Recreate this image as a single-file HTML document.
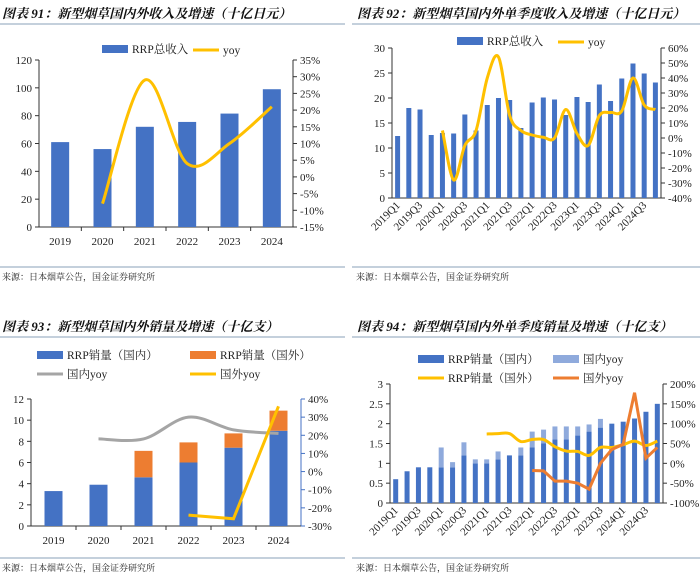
<!DOCTYPE html>
<html><head><meta charset="utf-8">
<style>
body{margin:0;background:#fff;width:700px;height:580px;overflow:hidden;}
svg text{font-family:"Liberation Serif","Noto Serif CJK SC",serif;}
.t{font-family:"Liberation Serif","Noto Serif CJK SC",serif;font-weight:bold;font-style:italic;font-size:13px;fill:#111;}
.s{font-family:"Liberation Serif","Noto Serif CJK SC",serif;font-size:9px;fill:#222;}
.k{font-size:11px;fill:#222;}
.lg{font-size:11.5px;fill:#222;}
</style></head>
<body>
<svg id="c" width="700" height="580" xmlns="http://www.w3.org/2000/svg">
<text class="t" x="2" y="18">图表 91：新型烟草国内外收入及增速（十亿日元）</text>
<line x1="0" y1="24" x2="345" y2="24" stroke="#8aa0b8" stroke-width="1"/>
<line x1="0" y1="267" x2="345" y2="267" stroke="#8aa0b8" stroke-width="1"/>
<text class="s" x="2" y="280">来源：日本烟草公告，国金证券研究所</text>
<text class="t" x="357" y="18">图表 92：新型烟草国内外单季度收入及增速（十亿日元）</text>
<line x1="352" y1="24" x2="700" y2="24" stroke="#8aa0b8" stroke-width="1"/>
<line x1="352" y1="267" x2="700" y2="267" stroke="#8aa0b8" stroke-width="1"/>
<text class="s" x="356" y="280">来源：日本烟草公告，国金证券研究所</text>
<text class="t" x="2" y="331">图表 93：新型烟草国内外销量及增速（十亿支）</text>
<line x1="0" y1="337" x2="345" y2="337" stroke="#8aa0b8" stroke-width="1"/>
<line x1="0" y1="558" x2="345" y2="558" stroke="#8aa0b8" stroke-width="1"/>
<text class="s" x="2" y="571">来源：日本烟草公告，国金证券研究所</text>
<text class="t" x="357" y="331">图表 94：新型烟草国内外单季度销量及增速（十亿支）</text>
<line x1="352" y1="337" x2="700" y2="337" stroke="#8aa0b8" stroke-width="1"/>
<line x1="352" y1="558" x2="700" y2="558" stroke="#8aa0b8" stroke-width="1"/>
<text class="s" x="356" y="571">来源：日本烟草公告，国金证券研究所</text>
</svg>
<script>
// ---- Chart 91 data
const years = ["2019","2020","2021","2022","2023","2024"];
const rev91 = [61,56,72,75.5,81.5,99];
const yoy91 = [null,-8,29,4,10,21];
const leftTicks91 = [0,20,40,60,80,100,120];
const rightTicks91 = [-15,-10,-5,0,5,10,15,20,25,30,35];
// ---- Chart 92 data
const quarters = ["2019Q1","2019Q2","2019Q3","2019Q4","2020Q1","2020Q2","2020Q3","2020Q4","2021Q1","2021Q2","2021Q3","2021Q4","2022Q1","2022Q2","2022Q3","2022Q4","2023Q1","2023Q2","2023Q3","2023Q4","2024Q1","2024Q2","2024Q3","2024Q4"];
const rev92 = [12.4,18,17.7,12.6,13,12.9,16.7,13.5,18.6,20,19.6,14,19.1,20.1,19.7,16.6,20.2,19.2,22.7,19.4,23.9,26.9,24.9,23.1];
const yoy92 = [null,null,null,null,5,-28,-5,5,40,54,15,5,2,0.5,0,19,3,-5,15,17,18,40,22,19];
const leftTicks92 = [0,5,10,15,20,25,30];
const rightTicks92 = [-40,-30,-20,-10,0,10,20,30,40,50,60];
// ---- Chart 93 data
const dom93 = [3.3,3.9,4.6,6.0,7.4,9.0];
const for93 = [0,0,2.5,1.9,1.35,1.9];
const domYoy93 = [null,18,18,30,23,21];
const forYoy93 = [null,null,null,-24,-26,36];
const leftTicks93 = [0,2,4,6,8,10,12];
const rightTicks93 = [-30,-20,-10,0,10,20,30,40];
// ---- Chart 94 data
const dom94 = [0.6,0.8,0.9,0.9,0.9,0.9,1.2,1.0,1.0,1.1,1.2,1.2,1.4,1.5,1.6,1.6,1.7,1.8,1.9,2.0,2.05,2.13,2.3,2.5];
const tot94 = [0.6,0.8,0.9,0.9,1.4,1.03,1.53,1.1,1.1,1.3,1.2,1.4,1.8,1.85,1.93,1.93,1.93,1.98,2.12,2.0,2.05,2.13,2.3,2.5];
const forVol94 = [null,null,null,null,null,null,null,null,74,75,75,55,60,60,42,31,30,20,40,40,47,56,45,56];
const forYoy94 = [null,null,null,null,null,null,null,null,null,null,null,null,-18,-19,-45,-45,-50,-65,0,35,48,178,13,40];
const leftTicks94 = [0,0.5,1,1.5,2,2.5,3];
const leftLabels94 = ["0","0.5","1","1.5","2","2.5","3"];
const rightTicks94 = [-100,-50,0,50,100,150,200];

const svg=document.getElementById('c');
const NS='http://www.w3.org/2000/svg';
function mk(tag,attrs,parent){const e=document.createElementNS(NS,tag);for(const k in attrs)e.setAttribute(k,attrs[k]);(parent||svg).appendChild(e);return e;}
function lin(d0,d1,r0,r1){return v=>r0+(v-d0)*(r1-r0)/(d1-d0);}
function smoothPath(pts){
  let d='M'+pts[0][0]+','+pts[0][1];
  for(let i=0;i<pts.length-1;i++){
    const p0=pts[i-1]||pts[i],p1=pts[i],p2=pts[i+1],p3=pts[i+2]||p2;
    const c1=[p1[0]+(p2[0]-p0[0])/6,p1[1]+(p2[1]-p0[1])/6];
    const c2=[p2[0]-(p3[0]-p1[0])/6,p2[1]-(p3[1]-p1[1])/6];
    d+=' C'+c1+' '+c2+' '+p2;
  }
  return d;
}
function linePath(pts){return 'M'+pts.map(p=>p.join(',')).join(' L');}
function ptsOf(vals,xf,yf){const p=[];vals.forEach((v,i)=>{if(v!==null)p.push([xf(i),yf(v)]);});return p;}
function axes(o){
  // left axis
  mk('line',{x1:o.xl,y1:o.yTop,x2:o.xl,y2:o.yBot,stroke:'#333'});
  o.lt.forEach((v,i)=>{const y=o.ly(v);
    mk('line',{x1:o.xl-4,y1:y,x2:o.xl,y2:y,stroke:'#333'});
    const t=mk('text',{x:o.xl-7,y:y+4,'text-anchor':'end',class:'k'});t.textContent=o.ll?o.ll[i]:v;
    
    });
  const rc=o.rColor||'#333';
  mk('line',{x1:o.xr,y1:o.yTop,x2:o.xr,y2:o.yBot,stroke:rc});
  o.rt.forEach(v=>{const y=o.ry(v);
    mk('line',{x1:o.xr,y1:y,x2:o.xr+4,y2:y,stroke:rc});
    const t=mk('text',{x:o.xr+7,y:y+4,class:'k'});t.textContent=v+'%';
    
    });
  mk('line',{x1:o.xl,y1:o.yBot,x2:o.xr,y2:o.yBot,stroke:'#333'});
}
function bar(x,w,y0,y1,fill,name){const r=mk('rect',{x:x-w/2,y:Math.min(y0,y1),width:w,height:Math.abs(y1-y0),fill:fill});
  
  return r;}
function legRect(x,y,fill,label,name){mk('rect',{x:x,y:y-5,width:26,height:8,fill:fill});const t=mk('text',{x:x+30,y:y+3,class:'lg'});t.textContent=label;
  
  }
function legLine(x,y,col,label,name){mk('line',{x1:x,y1:y,x2:x+26,y2:y,stroke:col,'stroke-width':3});const t=mk('text',{x:x+30,y:y+4,class:'lg'});t.textContent=label;
  
  }
const BLUE='#4472c4',GOLD='#ffc000',ORANGE='#ed7d31',GRAY='#a5a5a5',LBLUE='#8faadc';

// ---- Chart 91
(function(){
  const xl=39,xr=293,yTop=60,yBot=227;
  const ly=lin(0,120,yBot,yTop), ry=lin(-15,35,yBot,yTop);
  const step=(xr-xl)/years.length, xf=i=>xl+step*(i+0.5);
  axes({xl,xr,yTop,yBot,ly,ry,lt:leftTicks91,rt:rightTicks91});
  for(let i=1;i<years.length;i++)mk('line',{x1:xl+step*i,y1:yBot,x2:xl+step*i,y2:yBot+4,stroke:'#333'});
  rev91.forEach((v,i)=>bar(xf(i),18,yBot,ly(v),BLUE,'bar-91-'+years[i]));
  years.forEach((y,i)=>{const t=mk('text',{x:xf(i),y:245,'text-anchor':'middle',class:'k'});t.textContent=y;});
  const p=mk('path',{d:smoothPath(ptsOf(yoy91,xf,ry)),fill:'none',stroke:GOLD,'stroke-width':3});
  
  
  legRect(102,50,BLUE,'RRP总收入','legend-91-revenue');
  legLine(193,50,GOLD,'yoy','legend-91-yoy');
})();

// ---- Chart 92
(function(){
  const xl=392,xr=661,yTop=48,yBot=198;
  const ly=lin(0,30,yBot,yTop), ry=lin(-40,60,yBot,yTop);
  const step=(xr-xl)/quarters.length, xf=i=>xl+step*(i+0.5);
  axes({xl,xr,yTop,yBot,ly,ry,lt:leftTicks92,rt:rightTicks92});
  rev92.forEach((v,i)=>bar(xf(i),5,yBot,ly(v),BLUE,'bar-92-'+quarters[i]));
  quarters.forEach((q,i)=>{if(i%2)return;const t=mk('text',{x:xf(i)+3,y:yBot+8,'text-anchor':'end',class:'k',transform:'rotate(-45 '+(xf(i)+3)+' '+(yBot+8)+')'});t.textContent=q;});
  const p=mk('path',{d:smoothPath(ptsOf(yoy92,xf,ry)),fill:'none',stroke:GOLD,'stroke-width':3});
  
  
  legRect(457,42,BLUE,'RRP总收入','legend-92-revenue');
  legLine(558,42,GOLD,'yoy','legend-92-yoy');
})();

// ---- Chart 93
(function(){
  const xl=31,xr=301,yTop=399,yBot=526;
  const ly=lin(0,12,yBot,yTop), ry=lin(-30,40,yBot,yTop);
  const step=(xr-xl)/years.length, xf=i=>xl+step*(i+0.5);
  axes({xl,xr,yTop,yBot,ly,ry,lt:leftTicks93,rt:rightTicks93,rColor:BLUE});
  for(let i=1;i<years.length;i++)mk('line',{x1:xl+step*i,y1:yBot,x2:xl+step*i,y2:yBot+4,stroke:'#333'});
  dom93.forEach((v,i)=>{bar(xf(i),18,yBot,ly(v),BLUE,'bar-93-domestic-'+years[i]);
    if(for93[i]>0)bar(xf(i),18,ly(v),ly(v+for93[i]),ORANGE,'bar-93-foreign-'+years[i]);});
  years.forEach((y,i)=>{const t=mk('text',{x:xf(i),y:544,'text-anchor':'middle',class:'k'});t.textContent=y;});
  const g=mk('path',{d:smoothPath(ptsOf(domYoy93,xf,ry)),fill:'none',stroke:GRAY,'stroke-width':3});
  
  
  const y=mk('path',{d:linePath(ptsOf(forYoy93,xf,ry)),fill:'none',stroke:GOLD,'stroke-width':3});
  
  
  legRect(37,356,BLUE,'RRP销量（国内）','legend-93-domestic');
  legRect(190,356,ORANGE,'RRP销量（国外）','legend-93-foreign');
  legLine(37,374,GRAY,'国内yoy','legend-93-domestic-yoy');
  legLine(190,374,GOLD,'国外yoy','legend-93-foreign-yoy');
})();

// ---- Chart 94
(function(){
  const xl=390,xr=663,yTop=384,yBot=503;
  const ly=lin(0,3,yBot,yTop), ry=lin(-100,200,yBot,yTop);
  const step=(xr-xl)/quarters.length, xf=i=>xl+step*(i+0.5);
  axes({xl,xr,yTop,yBot,ly,ry,lt:leftTicks94,ll:leftLabels94,rt:rightTicks94});
  dom94.forEach((v,i)=>{bar(xf(i),5,yBot,ly(v),BLUE,'bar-94-domestic-'+quarters[i]);
    if(tot94[i]>v)bar(xf(i),5,ly(v),ly(tot94[i]),LBLUE,'bar-94-top-'+quarters[i]);});
  quarters.forEach((q,i)=>{if(i%2)return;const t=mk('text',{x:xf(i)+3,y:yBot+8,'text-anchor':'end',class:'k',transform:'rotate(-45 '+(xf(i)+3)+' '+(yBot+8)+')'});t.textContent=q;});
  const a=mk('path',{d:smoothPath(ptsOf(forVol94,xf,ry)),fill:'none',stroke:GOLD,'stroke-width':3});
  
  
  const b=mk('path',{d:linePath(ptsOf(forYoy94,xf,ry)),fill:'none',stroke:ORANGE,'stroke-width':3});
  
  
  legRect(418,360,BLUE,'RRP销量（国内）','legend-94-domestic');
  legRect(553,360,LBLUE,'国内yoy','legend-94-domestic-yoy');
  legLine(418,378,GOLD,'RRP销量（国外）','legend-94-foreign');
  legLine(553,378,ORANGE,'国外yoy','legend-94-foreign-yoy');
})();
</script>
</body></html>
